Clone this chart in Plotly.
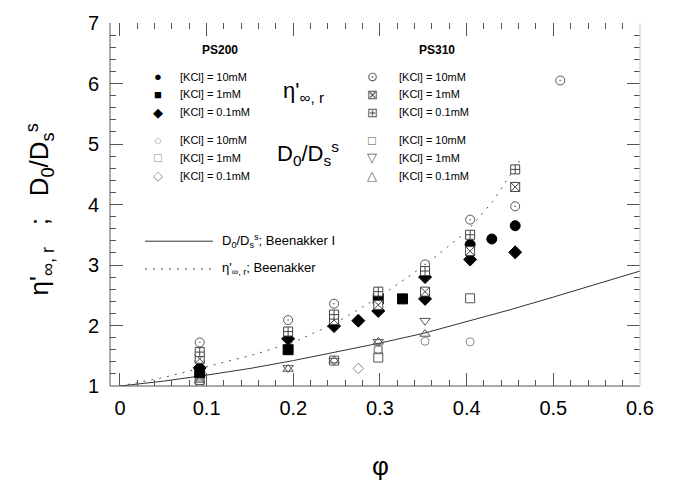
import plotly.graph_objects as go

# ---------------- data ----------------
# PS200, eta'_inf,r (filled symbols)
ps200_eta_10_phi = [0.404, 0.429, 0.456]
ps200_eta_10_val = [3.34, 3.43, 3.65]
ps200_eta_1_phi = [0.092, 0.194, 0.298, 0.326]
ps200_eta_1_val = [1.22, 1.60, 2.44, 2.44]
ps200_eta_01_phi = [0.092, 0.194, 0.247, 0.275, 0.298, 0.352, 0.352, 0.404, 0.456]
ps200_eta_01_val = [1.30, 1.78, 1.99, 2.08, 2.24, 2.80, 2.44, 3.09, 3.21]

# PS200, D0/Ds (open symbols)
ps200_d_10_phi = [0.092, 0.298, 0.352, 0.404]
ps200_d_10_val = [1.05, 1.60, 1.74, 1.73]
ps200_d_1_phi = [0.092, 0.298]
ps200_d_1_val = [1.15, 1.60]
ps200_d_01_phi = [0.092, 0.275]
ps200_d_01_val = [1.05, 1.29]

# PS310, eta'_inf,r
ps310_eta_10_phi = [0.092, 0.194, 0.247, 0.352, 0.404, 0.456, 0.508]
ps310_eta_10_val = [1.72, 2.09, 2.36, 3.01, 3.75, 3.97, 6.05]
ps310_eta_1_phi = [0.092, 0.247, 0.298, 0.352, 0.404, 0.456]
ps310_eta_1_val = [1.45, 2.09, 2.34, 2.56, 3.23, 4.29]
ps310_eta_01_phi = [0.092, 0.194, 0.247, 0.298, 0.352, 0.404, 0.456]
ps310_eta_01_val = [1.56, 1.90, 2.18, 2.56, 2.90, 3.50, 4.58]

# PS310, D0/Ds
ps310_d_10_phi = [0.092, 0.247, 0.298, 0.404]
ps310_d_10_val = [1.10, 1.42, 1.47, 2.45]
ps310_d_1_phi = [0.092, 0.194, 0.247, 0.298, 0.352]
ps310_d_1_val = [1.38, 1.30, 1.42, 1.73, 2.08]
ps310_d_01_phi = [0.092, 0.194, 0.247, 0.298, 0.352]
ps310_d_01_val = [1.10, 1.28, 1.42, 1.73, 1.86]

# Beenakker curves
beenakker_d_phi = [0.0, 0.05, 0.10, 0.15, 0.20, 0.25, 0.30, 0.35, 0.40, 0.45, 0.50, 0.55, 0.60]
beenakker_d_val = [1.00, 1.08, 1.18, 1.29, 1.42, 1.56, 1.71, 1.87, 2.06, 2.26, 2.47, 2.68, 2.90]
beenakker_eta_phi = [0.0, 0.05, 0.10, 0.15, 0.20, 0.25, 0.30, 0.35, 0.40, 0.43, 0.461]
beenakker_eta_val = [1.00, 1.14, 1.32, 1.50, 1.72, 2.05, 2.48, 2.98, 3.55, 4.05, 4.72]

x_ticks = [0, 0.1, 0.2, 0.3, 0.4, 0.5, 0.6]
y_ticks = [1, 2, 3, 4, 5, 6, 7]

# ---------------- layout geometry ----------------
W, H = 682, 481
L, R, T, B = 110, 42, 20, 95
PW, PH = W - L - R, H - T - B


def px(x):
    return (x - L) / PW


def py(y):
    return (H - B - y) / PH


FONT = "Liberation Sans, Arial, sans-serif"
GREY = "#8a8a8a"
AX = "#555555"

fig = go.Figure()

# curves
fig.add_trace(go.Scatter(x=beenakker_d_phi, y=beenakker_d_val, mode="lines",
                         line=dict(color="#333333", width=1), showlegend=False))
fig.add_trace(go.Scatter(x=beenakker_eta_phi, y=beenakker_eta_val, mode="lines",
                         line=dict(color="#555555", width=1, dash="2px,6px"), showlegend=False))


def pts(x, y, symbol, color="black", size=9, fill=None, lw=1, lc=None):
    fig.add_trace(go.Scatter(
        x=x, y=y, mode="markers", showlegend=False,
        marker=dict(symbol=symbol, size=size, color=fill if fill else color,
                    line=dict(color=lc if lc else color, width=lw))))


# open D0/Ds symbols (faint)
pts(ps200_d_10_phi, ps200_d_10_val, "circle-open", GREY, 8)
pts(ps200_d_1_phi, ps200_d_1_val, "square-open", GREY, 8)
pts(ps200_d_01_phi, ps200_d_01_val, "diamond-open", GREY, 8)
pts(ps310_d_10_phi, ps310_d_10_val, "square-open", "#555555", 9)
pts(ps310_d_1_phi, ps310_d_1_val, "triangle-down-open", "#555555", 9)
pts(ps310_d_01_phi, ps310_d_01_val, "triangle-up-open", "#555555", 9)

# filled PS200 symbols
pts(ps200_eta_10_phi, ps200_eta_10_val, "circle", "black", 10)
pts(ps200_eta_1_phi, ps200_eta_1_val, "square", "black", 10)
pts(ps200_eta_01_phi, ps200_eta_01_val, "diamond", "black", 10)

# PS310 eta symbols (white-filled, drawn over)
pts(ps310_eta_10_phi, ps310_eta_10_val, "circle-dot", "#555555", 9, fill="white")
pts(ps310_eta_1_phi, ps310_eta_1_val, "square-x", "#444444", 9, fill="white")
pts(ps310_eta_01_phi, ps310_eta_01_val, "square-cross", "#444444", 9, fill="white")

# ---------------- annotations (legend block) ----------------
ann = []


def text(x, y, s, size=11, xanchor="left", color="black", bold=False):
    if bold:
        s = "<b>" + s + "</b>"
    ann.append(dict(x=px(x), y=py(y), xref="paper", yref="paper", text=s,
                    showarrow=False, xanchor=xanchor, yanchor="middle",
                    font=dict(family=FONT, size=size, color=color)))


text(220, 47, "PS200", 12, "center", bold=True)
text(437, 47, "PS310", 12, "center", bold=True)

rows = [74, 92, 110, 138, 156, 174]
labels = ["[KCl] = 10mM", "[KCl] = 1mM", "[KCl] = 0.1mM"] * 2
ps200_syms = ["●", "■", "◆", "○", "□", "◇"]
ps200_cols = ["black", "black", "black", GREY, GREY, GREY]
ps310_syms = ["⊙", "⊠", "⊞", "□", "▽", "△"]
for r, lab, s200, c200, s310 in zip(rows, labels, ps200_syms, ps200_cols, ps310_syms):
    text(158, r, s200, 13, "center", c200)
    text(178, r, lab, 11)
    text(372, r, s310, 13, "center", "#555555")
    text(397, r, lab, 11)

text(303, 90, "η'<sub>∞, r</sub>", 22, "center")
text(308, 152, "D<sub>0</sub>/D<sub>s</sub><sup>s</sup>", 22, "center")

text(220, 240, "D<sub>0</sub>/D<sub>s</sub><sup>s</sup>; Beenakker I", 13)
text(220, 268, "η'<sub>∞, r</sub>; Beenakker", 13)

# y axis title
ann.append(dict(x=px(40), y=py(208), xref="paper", yref="paper",
                text="η'<sub>∞, r</sub>   ;   D<sub>0</sub>/D<sub>s</sub><sup>s</sup>",
                textangle=-90, showarrow=False, xanchor="center", yanchor="middle",
                font=dict(family=FONT, size=26, color="black")))
# x axis title
ann.append(dict(x=px(380), y=py(467), xref="paper", yref="paper", text="φ",
                showarrow=False, xanchor="center", yanchor="middle",
                font=dict(family=FONT, size=26, color="black")))

shapes = [
    # legend line samples
    dict(type="line", xref="paper", yref="paper", x0=px(145), x1=px(213),
         y0=py(240), y1=py(240), line=dict(color="#333333", width=1)),
    dict(type="line", xref="paper", yref="paper", x0=px(145), x1=px(213),
         y0=py(268), y1=py(268), line=dict(color="#555555", width=1, dash="2px,6px")),
    # frame: left and bottom axis lines, faint right line
    dict(type="line", xref="paper", yref="paper", x0=0, x1=0, y0=0, y1=1,
         line=dict(color=AX, width=1)),
    dict(type="line", xref="paper", yref="paper", x0=0, x1=1, y0=0, y1=0,
         line=dict(color=AX, width=1)),
    dict(type="line", xref="paper", yref="paper", x0=1, x1=1, y0=0, y1=1,
         line=dict(color="#c8c8c8", width=1)),
]

axis_common = dict(showgrid=False, zeroline=False, ticks="inside", showline=False,
                   mirror="ticks",
                   tickfont=dict(family=FONT, size=20, color="black"),
                   tickcolor=AX, tickwidth=1)

fig.update_layout(
    width=W, height=H, margin=dict(l=L, r=R, t=T, b=B),
    paper_bgcolor="white", plot_bgcolor="white",
    annotations=ann, shapes=shapes,
    xaxis=dict(range=[-0.0115, 0.6], tickvals=x_ticks, ticklen=13, ticklabelstandoff=8,
               minor=dict(dtick=0.02, tick0=0, ticks="inside", ticklen=6, tickcolor=AX),
               **axis_common),
    yaxis=dict(range=[1, 7], tickvals=y_ticks, ticklen=13, ticklabelstandoff=10,
               minor=dict(dtick=0.2, ticks="inside", ticklen=6, tickcolor=AX),
               **axis_common),
)

fig.write_html("out.html")
